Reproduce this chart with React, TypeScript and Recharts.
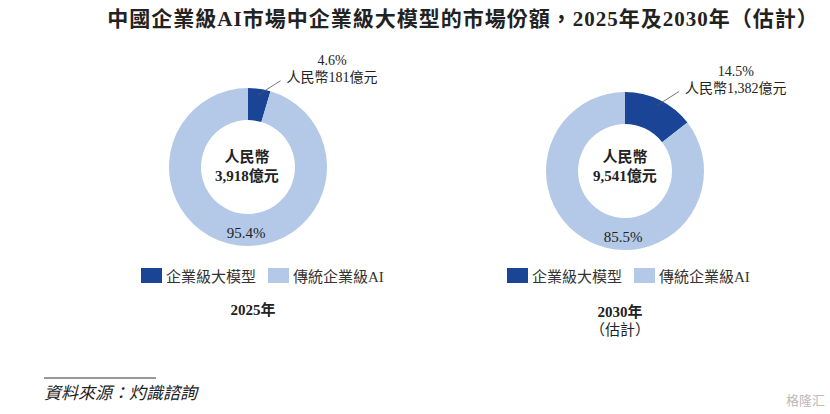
import { Cell, Pie, PieChart } from "recharts"

const categories = ["企業級大模型", "傳統企業級AI"]
const years = ["2025年", "2030年"]
const yearNotes = ["", "（估計）"]
const totals = ["3,918", "9,541"]
const llmShare = [4.6, 14.5]
const traditionalShare = [95.4, 85.5]
const llmValues = ["181", "1,382"]

const colors = ["#1a4596", "#b4c9e8"]
const serif = '"Liberation Serif", "Noto Sans CJK TC", serif'
const RAD = Math.PI / 180

// rough text width for the two-line callout
const textWidth = (s: string, size: number) => {
  let w = 0
  for (const ch of s) {
    if (/[0-9]/.test(ch)) w += size * 0.5
    else if (ch === "," || ch === ".") w += size * 0.25
    else w += size
  }
  return w
}

const pies = [
  { cx: 248, cy: 167, textX: 247, yearX: 253, yearY: 310, legendX: 141 },
  { cx: 625, cy: 171, textX: 625, yearX: 620, yearY: 312, legendX: 507 },
]

function makeLabel(i: number) {
  return (props: any) => {
    const { cx, cy, midAngle, outerRadius, index } = props
    if (index === 0) {
      const r = outerRadius - 6
      const sx = cx + r * Math.cos(-midAngle * RAD)
      const sy = cy + r * Math.sin(-midAngle * RAD)
      const ex = sx + 22
      const ey = sy - 14
      const line2 = `人民幣${llmValues[i]}億元`
      const w = textWidth(line2, 14)
      return (
        <g>
          <line x1={sx} y1={sy} x2={ex} y2={ey} stroke="#555" strokeWidth={0.8} />
          <text x={ex + 6 + w / 2} y={ey - 20} textAnchor="middle" dominantBaseline="central" fontSize={14} fontFamily={serif} fill="#222">
            {llmShare[i]}%
          </text>
          <text x={ex + 6} y={ey - 3} textAnchor="start" dominantBaseline="central" fontSize={14} fontFamily={serif} fill="#222">
            {line2}
          </text>
        </g>
      )
    }
    return (
      <text x={cx - 2} y={cy + 66} textAnchor="middle" dominantBaseline="central" fontSize={15} fontFamily={serif} fill="#222">
        {traditionalShare[i]}%
      </text>
    )
  }
}

export default function App() {
  return (
    <div style={{ position: "absolute", left: 0, top: 0, width: 830, height: 414, background: "#fff", fontFamily: serif }}>
      <PieChart width={830} height={414} margin={{ top: 0, right: 0, bottom: 0, left: 0 }} style={{ position: "absolute", left: 0, top: 0 }}>
        {pies.map((p, i) => (
          <Pie
            key={i}
            data={[
              { name: categories[0], value: llmShare[i] },
              { name: categories[1], value: traditionalShare[i] },
            ]}
            dataKey="value"
            cx={p.cx}
            cy={p.cy}
            innerRadius={47}
            outerRadius={79}
            startAngle={90}
            endAngle={-270}
            stroke="none"
            label={makeLabel(i)}
            labelLine={false}
            isAnimationActive={false}
          >
            {colors.map((c, j) => (
              <Cell key={j} fill={c} />
            ))}
          </Pie>
        ))}
      </PieChart>

      <svg width={830} height={414} style={{ position: "absolute", left: 0, top: 0, pointerEvents: "none" }}>
        <text x={463} y={19} textAnchor="middle" dominantBaseline="central" fontSize={21} fontWeight="bold" letterSpacing={1} fontFamily={serif} fill="#222">
          中國企業級AI市場中企業級大模型的市場份額，2025年及2030年（估計）
        </text>
        {pies.map((p, i) => (
          <g key={i}>
            <text x={p.textX} y={157} textAnchor="middle" dominantBaseline="central" fontSize={15} fontWeight="bold" fontFamily={serif} fill="#222">
              人民幣
            </text>
            <text x={p.textX} y={176} textAnchor="middle" dominantBaseline="central" fontSize={15} fontWeight="bold" fontFamily={serif} fill="#222">
              {totals[i]}億元
            </text>
            <text x={p.yearX} y={p.yearY} textAnchor="middle" dominantBaseline="central" fontSize={15} fontWeight="bold" fontFamily={serif} fill="#222">
              {years[i]}
            </text>
            {yearNotes[i] && (
              <text x={p.yearX} y={p.yearY + 18} textAnchor="middle" dominantBaseline="central" fontSize={15} fontFamily={serif} fill="#222">
                {yearNotes[i]}
              </text>
            )}
          </g>
        ))}
        <line x1={44} y1={378} x2={156} y2={378} stroke="#333" strokeWidth={1} />
        <text x={44} y={393} dominantBaseline="central" fontSize={17} fontStyle="italic" fontFamily={serif} fill="#222">
          資料來源：灼識諮詢
        </text>
        <text x={825} y={400} textAnchor="end" dominantBaseline="central" fontSize={13} fontFamily={serif} fill="#bbb">
          格隆汇
        </text>
      </svg>

      {pies.map((p, i) => (
        <div key={i} style={{ position: "absolute", left: p.legendX, top: 265, display: "flex", alignItems: "center", fontSize: 15, color: "#333", whiteSpace: "nowrap" }}>
          {categories.map((c, j) => (
            <div key={j} style={{ display: "flex", alignItems: "center", marginRight: 12 }}>
              <span style={{ display: "inline-block", width: 21, height: 15, background: colors[j], marginRight: 4 }} />
              <span>{c}</span>
            </div>
          ))}
        </div>
      ))}
    </div>
  )
}
